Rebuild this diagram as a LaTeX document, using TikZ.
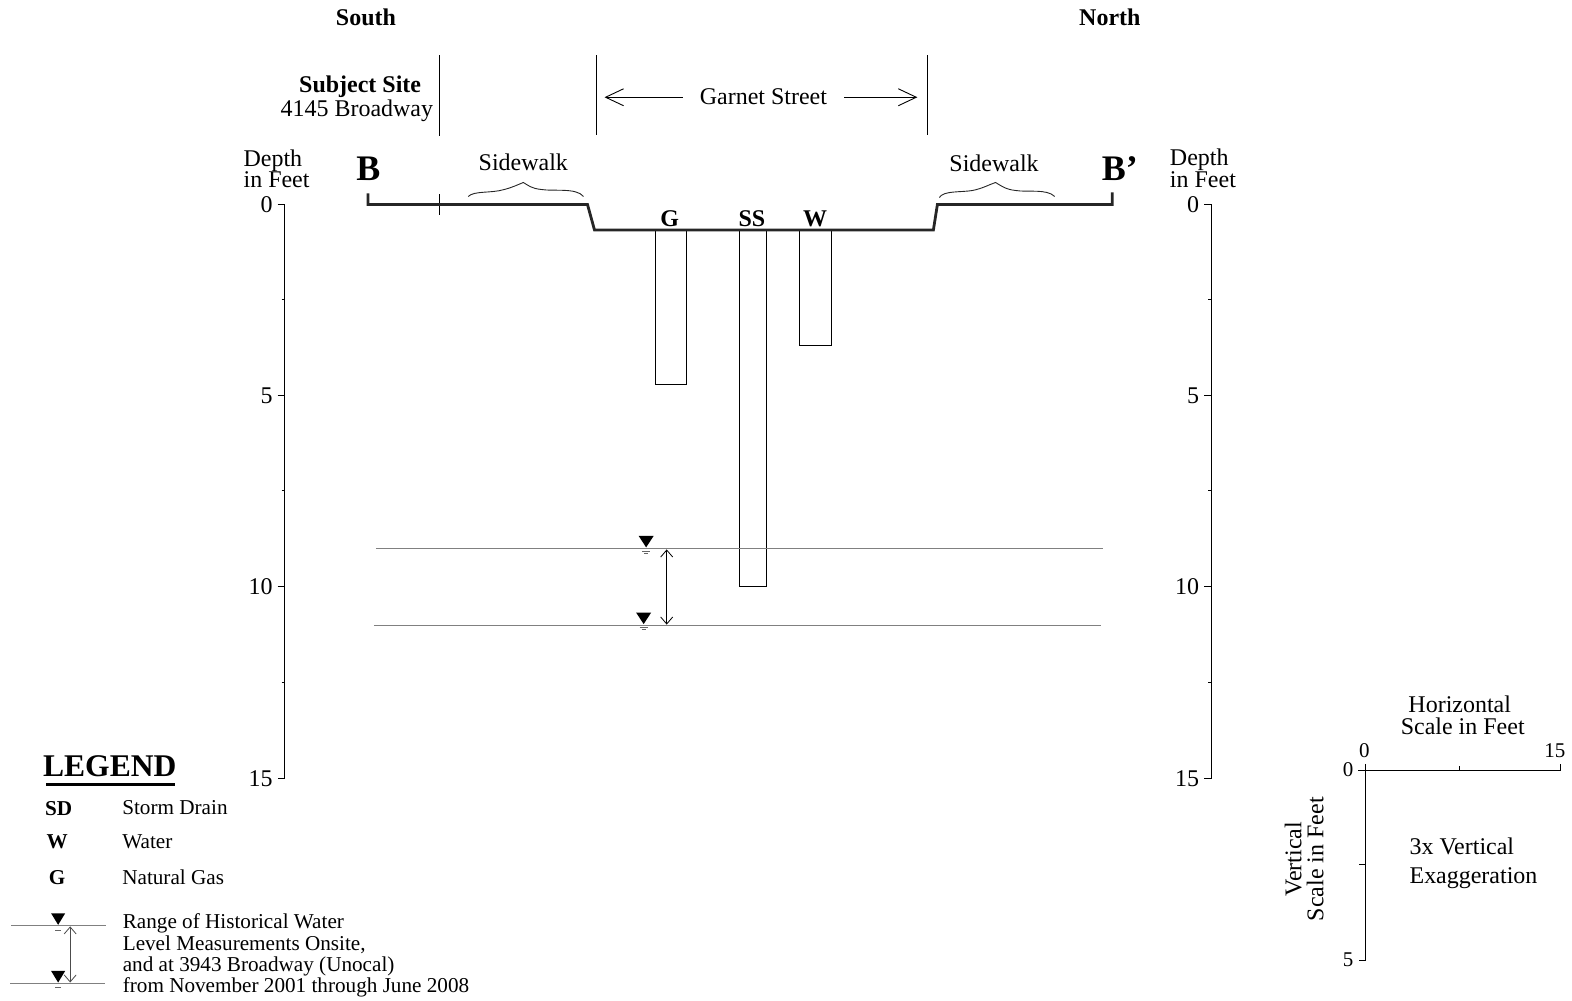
\documentclass[tikz,border=0pt]{standalone}
\usepackage{fontspec}
\setmainfont{Liberation Serif}
\usetikzlibrary{arrows.meta}
\newcommand{\fs}[1]{\fontsize{#1}{#1}\selectfont}
\tikzset{
  x=1bp,y=-1bp,
  lbl/.style={inner sep=0pt,outer sep=0pt,text=black,font=\fs{24}},
  lbll/.style={lbl,anchor=base west},
  lblr/.style={lbl,anchor=base east},
  lblc/.style={lbl,anchor=base},
  leg/.style={lbl,anchor=base west,font=\fs{21.2}},
  legb/.style={lbl,anchor=base,font=\fs{21.2}\bfseries},
  head/.style={lbl,anchor=base,font=\fs{24}\bfseries},
  big/.style={lbl,anchor=base west,font=\fs{36}\bfseries},
  thin line/.style={draw=black,line width=0.9pt},
  ground/.style={draw=black!85,line width=2.8pt,line join=miter},
  brace/.style={draw=black!85,line width=0.9pt},
  water/.style={draw=black!50,line width=0.9pt},
  rangearrow/.style={draw=black,line width=0.9pt,{Straight Barb[length=7pt,width=12pt,line width=0.8pt]}-{Straight Barb[length=7pt,width=12pt,line width=0.8pt]}},
  streetarrow/.style={draw=black,line width=0.9pt,-{Straight Barb[length=18pt,width=17pt,line width=0.9pt]}},
  duct/.style={draw=black,line width=0.9pt,fill=white},
  tri/.style={fill=black,draw=none},
  dash bar/.style={draw=black!60,line width=0.9pt},
}
\newcommand{\wl}[3]{% tip x, top y, half width
  \fill[tri] (#1-#3,#2) -- (#1+#3,#2) -- (#1,#2+11.5) -- cycle;
}
\newcommand{\depthaxis}[2]{% x, name
  \draw[thin line] (#1-7,204) -- (#1,204) -- (#1,776) -- (#1-7,776);
  \foreach \yy in {299,489,681}{\draw[thin line] (#1-3,\yy) -- (#1,\yy);}
  \draw[thin line] (#1-7,394) -- (#1,394);
  \draw[thin line] (#1-7,585) -- (#1,585);
  \node[lblr] (#2zero) at (#1-12,212) {0};
  \node[lblr] (#2five) at (#1-12,402) {5};
  \node[lblr] (#2ten) at (#1-12,593) {10};
  \node[lblr] (#2fifteen) at (#1-12,784) {15};
}
\begin{document}
\begin{tikzpicture}
\useasboundingbox (0,0) rectangle (1568,997.5);
% headings
\node[head] (south) at (365,25.5) {South};
\node[head] (north) at (1107,25.5) {North};
\node[head,anchor=base east] (site) at (420,92) {Subject Site};
\node[lblr] (addr) at (432,116) {4145 Broadway};
% street limits
\coordinate (a1) at (438,55); \coordinate (a2) at (438,136);
\coordinate (b1) at (595,55); \coordinate (b2) at (595,135);
\coordinate (c1) at (925,55); \coordinate (c2) at (925,135);
\draw[thin line] (a1) -- (a2) (b1) -- (b2) (c1) -- (c2);
\node[lblc] (street) at (761.5,104) {Garnet Street};
\coordinate (sl) at (681,97); \coordinate (sl2) at (603,97);
\coordinate (sr) at (842,97); \coordinate (sr2) at (915,97);
\draw[streetarrow] (sl) -- (sl2);
\draw[streetarrow] (sr) -- (sr2);
% depth axes
\node[lbll] (d1) at (243,166) {Depth};
\node[lbll] (d2) at (243,187) {in Feet};
\depthaxis{284}{l}
\node[lbll] (d3) at (1167,165) {Depth};
\node[lbll] (d4) at (1167,187) {in Feet};
\depthaxis{1208}{r}
% section letters
\node[big] (bb) at (355.5,180) {B};
\node[big] (bp) at (1099,180) {B’};
\node[lblc] (sw1) at (522,170) {Sidewalk};
\node[lblc] (sw2) at (991.5,171) {Sidewalk};
% braces
\draw[brace] (467,196) .. controls (473,190) and (490,193) .. (503,189) .. controls (511,187) and (517,184) .. (522,182) .. controls (527,185) and (530,188) .. (540,189) .. controls (552,191) and (575,187) .. (582,196);
\draw[brace] (937,197) .. controls (941,190) and (958,192) .. (970,190) .. controls (980,188) and (987,184) .. (993,182) .. controls (998,185) and (1003,189) .. (1013,190) .. controls (1025,192) and (1044,188) .. (1052,196);
% ducts
\draw[duct] (654,229) rectangle (685,383);
\draw[duct] (738,229) rectangle (764,585);
\draw[duct] (797,229) rectangle (829,345);
% ground line
\draw[thin line] (438.5,194) -- (438.5,214);
\draw[ground] (367,193) -- (367,204) -- (586,204) -- (593,229.5) -- (931,229.5) -- (935,204) -- (1109.5,204) -- (1109.5,192);
\node[head] (g) at (668,226) {G};
\node[head] (ss) at (750,226) {SS};
\node[head] (w) at (813,226) {W};
% water levels
\draw[water] (375,547) -- (1100,547);
\draw[water] (373,624) -- (1098,624);
\wl{644.5}{534.5}{7.5}
\draw[dash bar] (640.5,549.8) -- (648.5,549.8);
\draw[dash bar] (642.5,551.8) -- (646.5,551.8);
\wl{642}{611}{7.5}
\draw[dash bar] (638,626) -- (646,626);
\draw[dash bar] (640,628) -- (644,628);
\coordinate (r1) at (665,548); \coordinate (r2) at (665,623);
\draw[rangearrow] (r1) -- (r2);
% legend
\node[lbl,anchor=base west,font=\fs{31.6}\bfseries] (legend) at (43,775) {LEGEND};
\draw[draw=black,line width=2.2pt] (46,782.5) -- (175,782.5);
\node[legb] (k1) at (58.5,813) {SD};
\node[leg] (v1) at (122,812) {Storm Drain};
\node[legb] (k2) at (57,846) {W};
\node[leg] (v2) at (122,846) {Water};
\node[legb] (k3) at (57,882) {G};
\node[leg] (v3) at (122,882) {Natural Gas};
\node[leg] (v4) at (122.5,926.5) {Range of Historical Water};
\node[leg] (v5) at (122.5,948) {Level Measurements Onsite,};
\node[leg] (v6) at (122.5,969) {and at 3943 Broadway (Unocal)};
\node[leg] (v7) at (122.5,990) {from November 2001 through June 2008};
\draw[water] (11,923.5) -- (106,923.5);
\draw[water] (10,980.5) -- (105,980.5);
\wl{58}{911}{7}
\draw[dash bar] (55,928) -- (61,928);
\wl{58}{968.5}{7}
\draw[dash bar] (55,985) -- (61,985);
\coordinate (q1) at (70,924); \coordinate (q2) at (70,980);
\draw[rangearrow,draw=black!70] (q1) -- (q2);
% scale
\node[lblc] (h1) at (1456,711) {Horizontal};
\node[lblc] (h2) at (1459,733) {Scale in Feet};
\node[lblc,font=\fs{21}] (h0) at (1361,756) {0};
\node[lblc,font=\fs{21}] (h15) at (1551,756) {15};
\node[lblr,font=\fs{21}] (v0) at (1350,775) {0};
\node[lblr,font=\fs{21}] (v5n) at (1350,964) {5};
\draw[thin line] (1355,768) -- (1556,768) -- (1556,762);
\draw[thin line] (1456,768) -- (1456,764);
\draw[thin line] (1362,762) -- (1362,958) -- (1356,958);
\draw[thin line] (1356,862) -- (1362,862);
\node[lbl,rotate=90,anchor=base] (vs1) at (1298,857) {Vertical};
\node[lbl,rotate=90,anchor=base] (vs2) at (1320,857) {Scale in Feet};
\node[lbll] (e1) at (1406,852) {3x Vertical};
\node[lbll] (e2) at (1406,881) {Exaggeration};
\end{tikzpicture}
\end{document}
